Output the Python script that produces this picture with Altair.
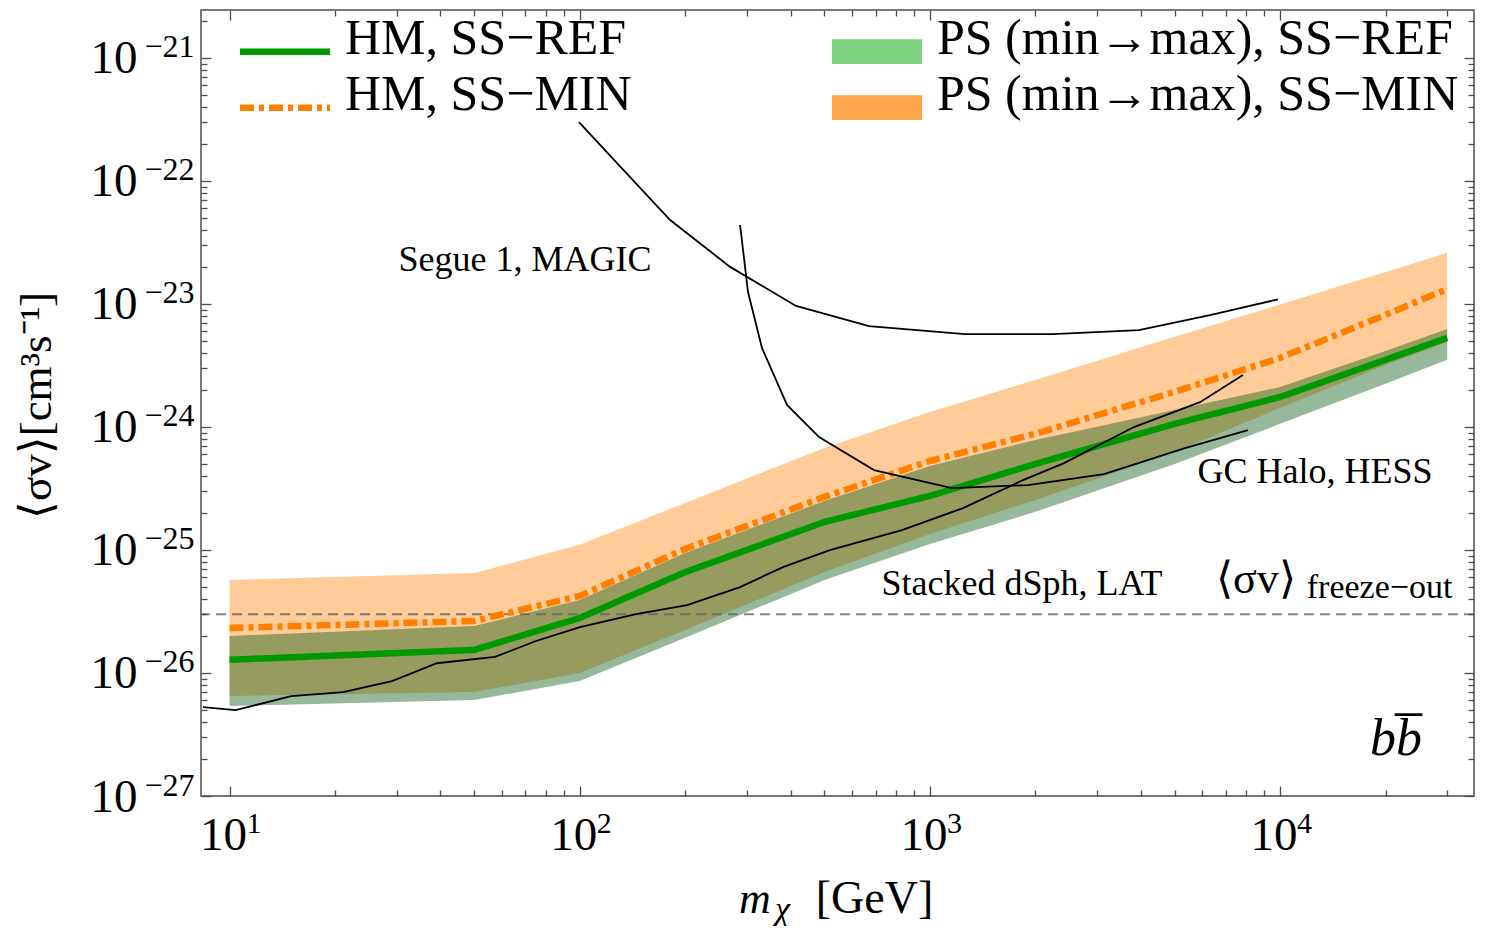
import altair as alt
import pandas as pd

SERIF = "Liberation Serif"
FRAME = "#4d4d4d"
W, H = 1273, 786

xs = alt.Scale(type="log", domain=[8.29, 35780], nice=False)
ys = alt.Scale(type="log", domain=[1e-27, 2.45e-21], nice=False)

# ---- model curves (mass in GeV, <sigma v> in cm^3/s) ----
mass = [10, 50, 100, 200, 500, 1000, 2000, 5000, 10000, 20000, 30000]
hm_ref = [1.28e-26, 1.54e-26, 2.80e-26, 6.6e-26, 1.69e-25, 2.75e-25, 5.0e-25, 1.06e-24, 1.75e-24, 3.51e-24, 5.30e-24]
hm_min = [2.32e-26, 2.65e-26, 4.23e-26, 1.02e-25, 2.70e-25, 5.3e-25, 8.8e-25, 1.93e-24, 3.64e-24, 8.15e-24, 1.32e-23]
ps_min_hi = [5.70e-26, 6.50e-26, 1.10e-25, 2.41e-25, 6.75e-25, 1.32e-24, 2.41e-24, 5.40e-24, 9.9e-24, 1.82e-23, 2.60e-23]
ps_min_lo = [6.50e-27, 7.01e-27, 1.0e-26, 2.24e-26, 6.62e-26, 1.35e-25, 2.55e-25, 6.27e-25, 1.43e-24, 3.19e-24, 4.91e-24]
ps_ref_hi = [2.00e-26, 2.41e-26, 3.92e-26, 9.46e-26, 2.50e-25, 4.82e-25, 7.83e-25, 1.37e-24, 2.11e-24, 4.15e-24, 6.26e-24]
ps_ref_lo = [5.39e-27, 6.03e-27, 8.61e-27, 1.93e-26, 5.70e-26, 1.12e-25, 2.04e-25, 5.0e-25, 1.06e-24, 2.24e-24, 3.51e-24]

# ---- experimental limits ----
segue_m = [99.5, 125.3, 181.2, 268.8, 414.6, 670, 1259, 2246, 3952, 6306, 9861]
segue_v = [3.01e-22, 1.48e-22, 4.81e-23, 2.00e-23, 9.62e-24, 6.61e-24, 5.69e-24, 5.69e-24, 6.13e-24, 8.11e-24, 1.09e-23]
hess_m = [287, 302.4, 331.6, 390.8, 482.4, 692.4, 1156.6, 1905, 3141, 5350, 8096]
hess_v = [4.38e-23, 1.25e-23, 4.37e-24, 1.51e-24, 8.28e-25, 4.46e-25, 3.18e-25, 3.37e-25, 4.14e-25, 6.73e-25, 9.42e-25]
dsph_m = [8.40, 10.4, 15.0, 21.1, 29.1, 39.1, 57.3, 75.0, 100.2, 144.8, 202.5, 287, 380.6, 518, 832,
          1243, 1845, 2415, 3825, 5905, 7834]
dsph_v = [5.27e-27, 4.99e-27, 6.49e-27, 6.99e-27, 8.59e-27, 1.20e-26, 1.35e-26, 1.82e-26, 2.36e-26, 3.01e-26,
          3.56e-26, 4.99e-26, 7.26e-26, 9.98e-26, 1.45e-25, 2.19e-25, 3.70e-25, 5.08e-25, 9.98e-25, 1.59e-24, 2.64e-24]
freeze_v = [3e-26]

LINE_NAMES = ["HM, SS\u2212REF", "HM, SS\u2212MIN"]
PS_NAMES = ["PS (min\u2192max), SS\u2212REF", "PS (min\u2192max), SS\u2212MIN"]

# ---- ticks ----
major_x = [10, 100, 1000, 10000]
minor_x = [20, 30, 40, 50, 60, 70, 80, 90, 200, 300, 400, 500, 600, 700, 800, 900,
           2000, 3000, 4000, 5000, 6000, 7000, 8000, 9000, 20000, 30000]
major_y = [1e-27, 1e-26, 1e-25, 1e-24, 1e-23, 1e-22, 1e-21]
minor_y = [2e-27, 3e-27, 4e-27, 5e-27, 6e-27, 7e-27, 8e-27, 9e-27,
           2e-26, 3e-26, 4e-26, 5e-26, 6e-26, 7e-26, 8e-26, 9e-26,
           2e-25, 3e-25, 4e-25, 5e-25, 6e-25, 7e-25, 8e-25, 9e-25,
           2e-24, 3e-24, 4e-24, 5e-24, 6e-24, 7e-24, 8e-24, 9e-24,
           2e-23, 3e-23, 4e-23, 5e-23, 6e-23, 7e-23, 8e-23, 9e-23,
           2e-22, 3e-22, 4e-22, 5e-22, 6e-22, 7e-22, 8e-22, 9e-22, 2e-21]

lab = dict(domain=False, grid=False, ticks=False, tickSize=0, labelFont=SERIF, labelColor="black",
           labelOverlap=False, labelFlush=False, labelBound=False,
           titleFont=SERIF, titleColor="black", titleFontWeight="normal")
tk = dict(domain=False, grid=False, labels=False, ticks=True, tickColor=FRAME, tickWidth=1.3, zindex=1)

ax_x_base = alt.Axis(orient="bottom", values=major_x, labelExpr="'10'", labelFontSize=47,
                     labelBaseline="alphabetic", labelAlign="center", labelPadding=53, labelOffset=-6.5,
                     title="m", titleFontSize=44, titleFontStyle="italic", titleX=553.5, titleY=116,
                     titleAlign="center", titleBaseline="alphabetic", **lab)
ax_x_exp = alt.Axis(orient="bottom", values=major_x, labelExpr="format(round(log(datum.value)/LN10),'d')",
                    labelFontSize=30, labelBaseline="alphabetic", labelAlign="center", labelPadding=36,
                    labelOffset=24, title="\u03c7", titleFontSize=34, titleFontStyle="italic", titleX=581,
                    titleY=123, titleAlign="center", titleBaseline="alphabetic", **lab)
ax_x_bmaj = alt.Axis(orient="top", offset=-H, values=major_x, tickSize=10, title="[GeV]", titleFont=SERIF,
                     titleFontSize=46, titleColor="black", titleFontWeight="normal", titleX=673, titleY=116,
                     titleAlign="center", titleBaseline="alphabetic", **tk)
ax_x_bmin = alt.Axis(orient="top", offset=-H, values=minor_x, tickSize=6, title=None, **tk)
ax_x_tmaj = alt.Axis(orient="bottom", offset=-H, values=major_x, tickSize=10, title=None, **tk)
ax_x_tmin = alt.Axis(orient="bottom", offset=-H, values=minor_x, tickSize=6, title=None, **tk)

ax_y_base = alt.Axis(orient="left", values=major_y, labelExpr="'10'", labelFontSize=47, labelAlign="right",
                     labelBaseline="middle", labelPadding=64, labelOffset=1,
                     title="\u27e8\u03c3v\u27e9[cm\u00b3s\u207b\u00b9]", titleFontSize=45, titleAngle=270,
                     titleX=-165, titleY=395, titleAlign="center", titleBaseline="middle", **lab)
ax_y_exp = alt.Axis(orient="left", values=major_y,
                    labelExpr="'\u2212' + format(-round(log(datum.value)/LN10),'d')", labelFontSize=32,
                    labelAlign="right", labelBaseline="middle", labelPadding=7, labelOffset=-11, title=None, **lab)
ax_y_lmaj = alt.Axis(orient="right", offset=-W, values=major_y, tickSize=10, title=None, **tk)
ax_y_lmin = alt.Axis(orient="right", offset=-W, values=minor_y, tickSize=6, title=None, **tk)
ax_y_rmaj = alt.Axis(orient="left", offset=-W, values=major_y, tickSize=10, title=None, **tk)
ax_y_rmin = alt.Axis(orient="left", offset=-W, values=minor_y, tickSize=6, title=None, **tk)

band_df = pd.DataFrame({"m": mass, "ref_lo": ps_ref_lo, "ref_hi": ps_ref_hi,
                        "min_lo": ps_min_lo, "min_hi": ps_min_hi})

orange_band = alt.Chart(band_df).mark_area(fill="#ff9933", opacity=0.5, clip=True).encode(
    x=alt.X("m:Q", scale=xs, axis=ax_x_base),
    y=alt.Y("min_lo:Q", scale=ys, axis=ax_y_base),
    y2=alt.Y2("min_hi:Q"))

green_band = alt.Chart(band_df).mark_area(fill="#00540b", opacity=0.41, clip=True).encode(
    x=alt.X("m:Q", scale=xs, axis=ax_x_exp),
    y=alt.Y("ref_lo:Q", scale=ys, axis=ax_y_exp),
    y2=alt.Y2("ref_hi:Q"))

freeze = alt.Chart(pd.DataFrame({"v": freeze_v})).mark_rule(
    color="#646464", strokeWidth=2, strokeDash=[10, 6], opacity=0.8).encode(
    y=alt.Y("v:Q", scale=ys, axis=None))

lines_df = pd.DataFrame({"m": mass + mass, "v": hm_ref + hm_min,
                         "series": [LINE_NAMES[0]] * len(mass) + [LINE_NAMES[1]] * len(mass)})

line_legend = alt.Legend(title=None, orient="none", legendX=39, legendY=4, padding=0,
                         labelFont=SERIF, labelFontSize=50, labelColor="black", labelLimit=2000,
                         symbolType="M-3,0.85H3", symbolSize=900, symbolStrokeWidth=6.5,
                         symbolOffset=20, labelOffset=35, clipHeight=50, rowPadding=6)
hm_lines = alt.Chart(lines_df).mark_line(strokeWidth=6.5, clip=True).encode(
    x=alt.X("m:Q", scale=xs, axis=ax_x_bmaj),
    y=alt.Y("v:Q", scale=ys, axis=ax_y_lmaj),
    color=alt.Color("series:N", scale=alt.Scale(domain=LINE_NAMES, range=["#009900", "#ff8000"]),
                    legend=line_legend),
    strokeDash=alt.StrokeDash("series:N", scale=alt.Scale(domain=LINE_NAMES, range=[[1, 0], [14, 5, 5, 5]]),
                              legend=line_legend))

fill_legend = alt.Legend(title=None, orient="none", legendX=631, legendY=4, padding=0,
                         labelFont=SERIF, labelFontSize=50, labelColor="black", labelLimit=2000,
                         symbolType="M-3,0.02H3V1.85H-3Z", symbolSize=900, symbolStrokeWidth=0,
                         symbolOpacity=1, symbolOffset=20, labelOffset=35, clipHeight=50, rowPadding=6)
ps_legend = alt.Chart(pd.DataFrame({"m": [10, 10], "v": [1e-26, 1e-26], "band": PS_NAMES})).transform_filter(
    "datum.m < 0").mark_area().encode(
    x=alt.X("m:Q", scale=xs, axis=None),
    y=alt.Y("v:Q", scale=ys, axis=None),
    fill=alt.Fill("band:N", scale=alt.Scale(domain=PS_NAMES, range=["#7fd37f", "#ffa64d"]), legend=fill_legend))

segue = alt.Chart(pd.DataFrame({"m": segue_m, "v": segue_v})).mark_line(color="black", strokeWidth=1.8, clip=True).encode(
    x=alt.X("m:Q", scale=xs, axis=ax_x_bmin), y=alt.Y("v:Q", scale=ys, axis=ax_y_lmin))
hess = alt.Chart(pd.DataFrame({"m": hess_m, "v": hess_v})).mark_line(color="black", strokeWidth=1.8, clip=True).encode(
    x=alt.X("m:Q", scale=xs, axis=ax_x_tmaj), y=alt.Y("v:Q", scale=ys, axis=ax_y_rmaj))
dsph = alt.Chart(pd.DataFrame({"m": dsph_m, "v": dsph_v})).mark_line(color="black", strokeWidth=1.8, clip=True).encode(
    x=alt.X("m:Q", scale=xs, axis=ax_x_tmin), y=alt.Y("v:Q", scale=ys, axis=ax_y_rmin))

def text_layer(ms, vs, labels, size, style="normal", baseline="middle"):
    return alt.Chart(pd.DataFrame({"m": ms, "v": vs, "label": labels})).mark_text(
        font=SERIF, fontSize=size, fontStyle=style, align="center", baseline=baseline, color="black").encode(
        x=alt.X("m:Q", scale=xs, axis=None), y=alt.Y("v:Q", scale=ys, axis=None), text="label:N")

ann = text_layer([69.8, 12580, 1833], [2.27e-23, 4.30e-25, 5.27e-26],
                 ["Segue 1, MAGIC", "GC Halo, HESS", "Stacked dSph, LAT"], 36)
sig = text_layer([8530], [5.69e-26], ["\u27e8\u03c3v\u27e9"], 44)
fo = text_layer([19230], [4.90e-26], ["freeze\u2212out"], 34)
bb = text_layer([21430], [2.90e-27], ["bb"], 52, style="italic")
bar = text_layer([23260], [3.66e-27], ["\u2013"], 54, baseline="alphabetic")

chart = alt.layer(
    orange_band, green_band, freeze, hm_lines, segue, hess, dsph, ann, sig, fo, bb, bar, ps_legend
).resolve_axis(x="independent", y="independent").properties(
    width=W, height=H, padding={"left": 193, "top": 2, "right": 10, "bottom": 130},
    autosize=alt.AutoSizeParams(type="none"),
).configure_view(stroke=FRAME, strokeWidth=1.5)

chart.save("out.html", embed_options={"renderer": "svg", "actions": False})
